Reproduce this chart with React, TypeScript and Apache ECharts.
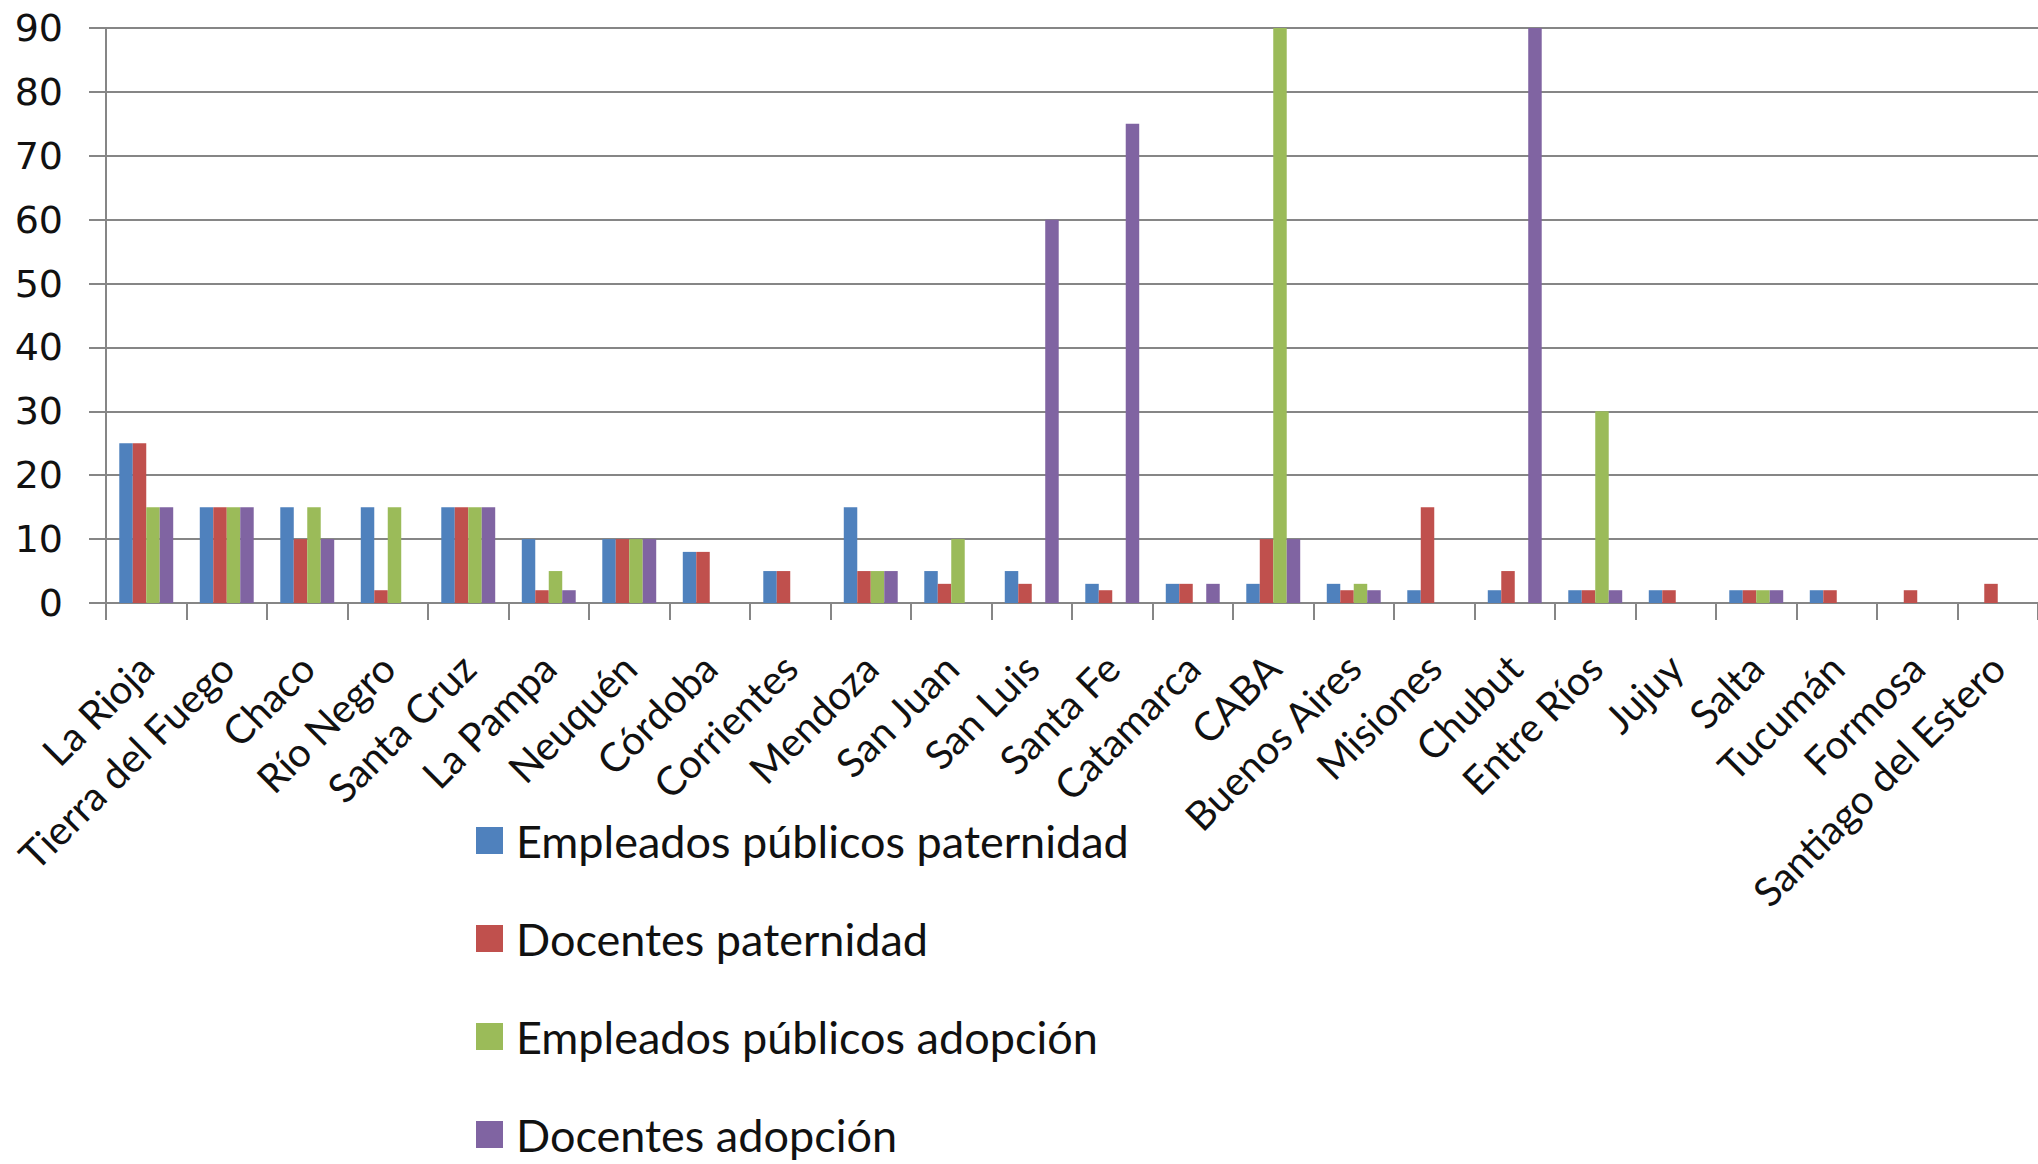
import React, { useEffect, useRef } from "react";
import * as echarts from "echarts";

const categories = [
  "La Rioja", "Tierra del Fuego", "Chaco", "Río Negro", "Santa Cruz", "La Pampa",
  "Neuquén", "Córdoba", "Corrientes", "Mendoza", "San Juan", "San Luis",
  "Santa Fe", "Catamarca", "CABA", "Buenos Aires", "Misiones", "Chubut",
  "Entre Ríos", "Jujuy", "Salta", "Tucumán", "Formosa", "Santiago del Estero",
];

const seriesNames = [
  "Empleados públicos paternidad",
  "Docentes paternidad",
  "Empleados públicos adopción",
  "Docentes adopción",
];

const empleadosPaternidad = [25, 15, 15, 15, 15, 10, 10, 8, 5, 15, 5, 5, 3, 3, 3, 3, 2, 2, 2, 2, 2, 2, 0, 0];
const docentesPaternidad = [25, 15, 10, 2, 15, 2, 10, 8, 5, 5, 3, 3, 2, 3, 10, 2, 15, 5, 2, 2, 2, 2, 2, 3];
const empleadosAdopcion = [15, 15, 15, 15, 15, 5, 10, 0, 0, 5, 10, 0, 0, 0, 90, 3, 0, 0, 30, 0, 2, 0, 0, 0];
const docentesAdopcion = [15, 15, 10, 0, 15, 2, 10, 0, 0, 5, 0, 60, 75, 3, 10, 2, 0, 90, 2, 0, 2, 0, 0, 0];

const colors = ["#4F81BD", "#C0504D", "#9BBB59", "#8064A2"];

export default function App() {
  const ref = useRef<HTMLDivElement>(null);
  useEffect(() => {
    if (!ref.current) return;
    const chart = echarts.init(ref.current, undefined, { renderer: "svg" });
    const values = [empleadosPaternidad, docentesPaternidad, empleadosAdopcion, docentesAdopcion];
    chart.setOption({
      animation: false,
      backgroundColor: "#ffffff",
      color: colors,
      grid: {
        left: 106,
        right: 0,
        top: 28,
        bottom: 561,
        containLabel: false,
        outerBoundsMode: "none",
      },
      legend: {
        orient: "vertical",
        left: 471,
        top: 813,
        height: 400,
        itemWidth: 27,
        itemHeight: 27,
        itemGap: 53,
        icon: "rect",
        data: seriesNames,
        textStyle: {
          fontFamily: "Lato",
          fontSize: 45,
          lineHeight: 45,
          color: "#111",
          padding: [0, 0, 0, 8],
        },
      },
      xAxis: {
        type: "category",
        data: categories,
        axisLine: { lineStyle: { color: "#868686", width: 2 } },
        axisTick: { show: true, length: 17, lineStyle: { color: "#868686", width: 2 } },
        axisLabel: {
          rotate: 45,
          interval: 0,
          margin: 58,
          fontFamily: "Lato",
          fontSize: 40,
          color: "#111",
        },
      },
      yAxis: {
        type: "value",
        min: 0,
        max: 90,
        interval: 10,
        axisLine: { show: true, lineStyle: { color: "#868686", width: 2 } },
        axisTick: { show: true, length: 17, lineStyle: { color: "#868686", width: 2 } },
        axisLabel: {
          margin: 43,
          fontFamily: "DejaVu Sans",
          fontSize: 38,
          color: "#111",
        },
        splitLine: { show: true, lineStyle: { color: "#868686", width: 2 } },
      },
      series: seriesNames.map((name, i) => ({
        name,
        type: "bar",
        data: values[i],
        barGap: "0%",
        barCategoryGap: "33%",
        itemStyle: { color: colors[i] },
      })),
    });
    return () => chart.dispose();
  }, []);
  return (
    <div
      ref={ref}
      style={{ position: "fixed", left: 0, top: 0, width: 2038, height: 1164, background: "#fff" }}
    />
  );
}
